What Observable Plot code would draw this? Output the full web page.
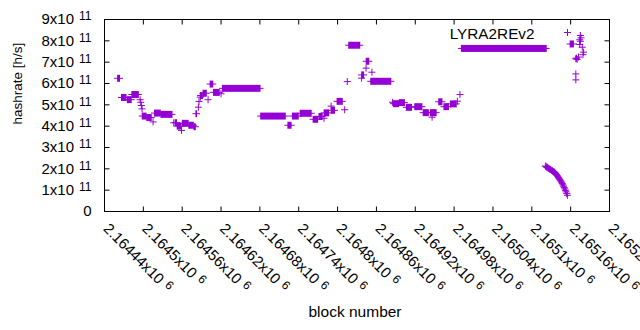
<!DOCTYPE html>
<html><head><meta charset="utf-8">
<script src="https://cdn.jsdelivr.net/npm/d3@7"></script>
<script src="https://cdn.jsdelivr.net/npm/@observablehq/plot@0.6"></script>
<style>
html,body{margin:0;padding:0;background:#fff;overflow:hidden;}
svg{font-family:"Liberation Sans",Arial,sans-serif;}
</style></head><body><div id="chart"></div>
<script>
// Runs of consecutive blocks sharing one hashrate (h/s)
const runStart = [2164461,2164467,2164476,2164483,2164499,2164506,2164518,2164528,2164550,2164553,2164561,2164571,2164579,2164582,2164589,2164593,2164604,2164609,2164623,2164682,2164724,2164731,2164743,2164763,2164772,2164780,2164791,2164800,2164818,2164838,2164845,2164852,2164887,2164896,2164907,2164920,2164933,2164944,2164957,2164965,2164975,2164992,2165160];
const runEnd   = [2164464,2164474,2164482,2164493,2164505,2164513,2164527,2164545,2164552,2164559,2164570,2164578,2164581,2164583,2164592,2164598,2164608,2164618,2164681,2164720,2164729,2164740,2164760,2164770,2164777,2164787,2164796,2164808,2164835,2164841,2164849,2164883,2164895,2164904,2164915,2164931,2164941,2164953,2164962,2164972,2164984,2165123,2165165];
const runValue = [6.22e11,5.32e11,5.22e11,5.46e11,4.45e11,4.38e11,4.59e11,4.53e11,4.14e11,3.98e11,4.11e11,4.02e11,3.95e11,4.56e11,5.41e11,5.52e11,5.95e11,5.56e11,5.75e11,4.45e11,4.02e11,4.45e11,4.58e11,4.30e11,4.43e11,4.60e11,4.72e11,5.14e11,7.77e11,6.38e11,7.02e11,6.08e11,5.03e11,5.08e11,4.86e11,4.89e11,4.61e11,4.61e11,5.12e11,4.89e11,5.02e11,7.62e11,7.83e11];

// Single blocks
const pointBlock = [2164495,2164496,2164497,2164498,2164515,2164547,2164559,2164585,2164586,2164588,2164600,2164620,2164779,2164790,2164811,2164815,2164837,2164844,2164853,2164885,2164946,2164985,2164989,
 2165121,2165122,2165123,2165124,2165125,2165126,2165127,2165128,2165129,2165130,2165131,2165132,2165133,2165134,2165135,2165136,2165137,2165138,2165139,2165140,2165141,2165142,2165143,2165144,2165145,2165146,2165147,2165148,2165149,2165150,2165151,2165152,2165153,2165154,2165155,
 2165168,2165169,2165170,2165172,2165174,2165174,2165175,2165175,2165176,2165178,2165179,2165180,2165168,2165168];
const pointValue = [5.24e11,5.12e11,4.97e11,4.81e11,4.20e11,4.16e11,3.80e11,4.89e11,5.16e11,5.36e11,5.24e11,5.52e11,4.37e11,4.94e11,4.77e11,6.09e11,6.25e11,6.72e11,6.53e11,5.12e11,4.42e11,5.17e11,5.48e11,
 2.13e11,2.10e11,2.08e11,2.07e11,2.04e11,2.02e11,2.00e11,1.98e11,1.97e11,1.94e11,1.92e11,1.90e11,1.88e11,1.86e11,1.84e11,1.81e11,1.77e11,1.73e11,1.69e11,1.65e11,1.60e11,1.56e11,1.51e11,1.47e11,1.42e11,1.37e11,1.31e11,1.25e11,1.19e11,1.12e11,1.06e11,0.99e11,0.92e11,0.84e11,0.76e11,
 7.16e11,7.19e11,7.13e11,7.24e11,8.05e11,7.83e11,8.25e11,7.98e11,8.14e11,7.70e11,7.35e11,7.47e11,6.45e11,6.17e11];

const xTicks = [2164440,2164500,2164560,2164620,2164680,2164740,2164800,2164860,2164920,2164980,2165040,2165100,2165160,2165220];
const xTickLabels = ["2.16444x10^6","2.1645x10^6","2.16456x10^6","2.16462x10^6","2.16468x10^6","2.16474x10^6","2.1648x10^6","2.16486x10^6","2.16492x10^6","2.16498x10^6","2.16504x10^6","2.1651x10^6","2.16516x10^6","2.16522x10^6"];
const yTicks = [0,1e11,2e11,3e11,4e11,5e11,6e11,7e11,8e11,9e11];
const yTickLabels = ["0","1x10^11","2x10^11","3x10^11","4x10^11","5x10^11","6x10^11","7x10^11","8x10^11","9x10^11"];
const seriesName = "LYRA2REv2";
const xTitle = "block number";
const yTitle = "hashrate [h/s]";

const runs = runStart.map((s, i) => ({start: s, end: runEnd[i], value: runValue[i]}));
const points = pointBlock.map((b, i) => ({block: b, value: pointValue[i]}));

const color = "#9400d3";
const ARM = 3.5;
const plus = {draw(c){c.moveTo(-ARM,0);c.lineTo(ARM,0);c.moveTo(0,-ARM);c.lineTo(0,ARM);}};
const tUp = {draw(c){c.moveTo(0,0);c.lineTo(0,-5);}};
const tDown = {draw(c){c.moveTo(0,0);c.lineTo(0,5);}};
const tRight = {draw(c){c.moveTo(0,0);c.lineTo(5,0);}};
const tLeft = {draw(c){c.moveTo(0,0);c.lineTo(-5,0);}};

const chart = Plot.plot({
  width: 640, height: 330,
  marginLeft: 104, marginRight: 31, marginTop: 19, marginBottom: 119,
  style: {fontFamily: '"Liberation Sans", Arial, sans-serif', fontSize: "15px", color: "black", background: "white"},
  x: {domain: [2164440, 2165220], axis: null},
  y: {domain: [0, 9e11], axis: null},
  marks: [
    Plot.rect(runs, {x1: "start", x2: "end", y1: "value", y2: "value", fill: color,
      insetLeft: -0.5, insetRight: -0.5, insetTop: -ARM, insetBottom: -ARM}),
    Plot.rect(runs, {x1: "start", x2: "end", y1: "value", y2: "value", fill: color,
      insetLeft: -ARM, insetRight: -ARM, insetTop: -0.5, insetBottom: -0.5}),
    Plot.dot(points, {x: "block", y: "value", symbol: plus, fill: "none", stroke: color, strokeWidth: 1}),
    Plot.frame({stroke: "black", strokeWidth: 1}),
    Plot.dot(yTicks, {y: d => d, frameAnchor: "left", symbol: tRight, fill: "none", stroke: "black", strokeWidth: 1}),
    Plot.dot(yTicks, {y: d => d, frameAnchor: "right", symbol: tLeft, fill: "none", stroke: "black", strokeWidth: 1}),
    Plot.dot(xTicks, {x: d => d, frameAnchor: "bottom", symbol: tUp, fill: "none", stroke: "black", strokeWidth: 1}),
    Plot.dot(xTicks, {x: d => d, frameAnchor: "top", symbol: tDown, fill: "none", stroke: "black", strokeWidth: 1}),
    Plot.text(yTicks, {y: d => d, frameAnchor: "left", text: (d, i) => yTickLabels[i], textAnchor: "end", dx: -13, fontSize: 15, fill: "black"}),
    Plot.text(xTicks, {x: d => d, frameAnchor: "bottom", text: (d, i) => xTickLabels[i], textAnchor: "start", rotate: 45, dx: -2, dy: 18, lineAnchor: "bottom", fontSize: 15, fill: "black"}),
    Plot.text([yTitle], {frameAnchor: "left", text: d => d, rotate: -90, dx: -86.5, dy: 9, fontSize: 13.5, fill: "black"}),
    Plot.text([xTitle], {frameAnchor: "bottom", text: d => d, dx: -2, dy: 105, fontSize: 15.5, fill: "black"}),
    Plot.text([seriesName], {frameAnchor: "top-right", text: d => d, textAnchor: "end", dx: -75, dy: 19, lineAnchor: "bottom", fontSize: 15.3, fill: "black"}),
    Plot.dot([seriesName], {frameAnchor: "top-right", dx: -42, dy: 13, symbol: plus, fill: "none", stroke: color, strokeWidth: 1})
  ]
});

// superscript exponents (gnuplot style "x10^{ n}")
chart.querySelectorAll("text").forEach(t => {
  const s = t.textContent;
  const k = s.indexOf("^");
  if (k < 0) return;
  t.textContent = s.slice(0, k);
  const ts = document.createElementNS("http://www.w3.org/2000/svg", "tspan");
  ts.setAttribute("font-size", "12");
  ts.setAttribute("dy", "-4");
  ts.setAttribute("dx", "5");
  ts.textContent = s.slice(k + 1);
  t.appendChild(ts);
});
document.getElementById("chart").appendChild(chart);
</script></body></html>
